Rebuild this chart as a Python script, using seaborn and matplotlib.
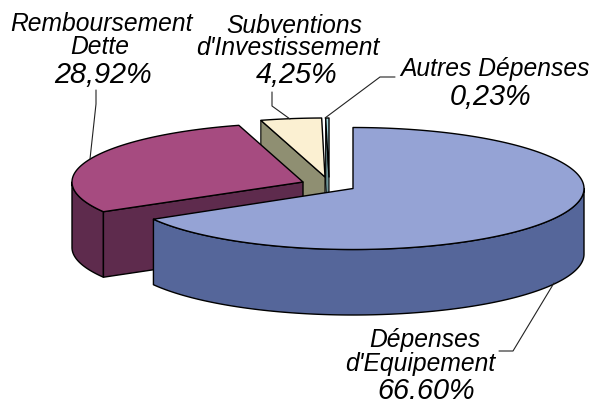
import numpy as np
import matplotlib
matplotlib.use("Agg")
import matplotlib.pyplot as plt
from matplotlib.patches import Polygon
import seaborn as sns

# ---- data ----
categories = ["Dépenses\nd'Equipement", "Remboursement\nDette",
              "Subventions\nd'Investissement", "Autres Dépenses"]
values = [66.60, 28.92, 4.25, 0.23]
value_labels = ["66.60%", "28,92%", "4,25%", "0,23%"]

# ---- styles / layout (pixel space) ----
top_colors = ["#95A3D5", "#A64B80", "#FBF0D2", "#A6D8DC"]
side_colors = ["#55669A", "#5E2B4D", "#8F8F72", "#6E9498"]
centres = [(353, 188.5), (303, 182), (325, 177), (329, 177)]
radii_y = [61, 59, 59, 59]
RX, DEPTH = 231, 65.5
# drawing order: back slices first
order = [2, 3, 1, 0]

cat_pos = [[(425, 347), (420, 371)], [(101, 31), (100, 54)],
           [(294, 33), (288, 55)], [(495, 76)]]
val_pos = [(426, 399), (103, 83), (297, 83), (491, 105)]
leaders = [[(499, 351), (513, 351), (554, 283)],
           [(96, 90), (96, 104), (90, 159)],
           [(272, 92), (272, 106), (290, 119)],
           [(395, 77), (380, 77), (325, 118)]]

sns.set_theme(style="white")
plt.rcParams["font.family"] = ["Liberation Sans", "DejaVu Sans"]

fig, ax = plt.subplots(figsize=(5.94, 4.05), dpi=100)
fig.subplots_adjust(0, 0, 1, 1)
ax.set_xlim(0, 594)
ax.set_ylim(405, 0)
ax.axis("off")
sns.despine(ax=ax, left=True, bottom=True)


def rim(c, a0, a1, ry):
    t = np.radians(np.linspace(a0, a1, max(3, int(abs(a1 - a0) * 2))))
    return np.column_stack([c[0] + RX * np.sin(t), c[1] - ry * np.cos(t)])


shares = np.array(values) / np.sum(values) * 360
starts = np.concatenate([[0], np.cumsum(shares)[:-1]])

for i in order:
    c = np.array(centres[i], float)
    ry = radii_y[i]
    a0, a1 = starts[i], starts[i] + shares[i]
    down = np.array([0, DEPTH])
    pts = rim(c, a0, a1, ry)
    # outer side wall: only the part of the rim facing the viewer (90..270 deg)
    lo, hi = max(a0, 90), min(a1, 270)
    if hi > lo:
        r = rim(c, lo, hi, ry)
        ax.add_patch(Polygon(np.vstack([r, (r + down)[::-1]]), closed=True,
                             fc=side_colors[i], ec="black", lw=1.0, joinstyle="round"))
    # cut faces that look toward the viewer
    if i in (1, 2, 3):
        p = pts[0]
        ax.add_patch(Polygon([c, p, p + down, c + down], closed=True,
                             fc=side_colors[i], ec="black", lw=1.0 if i == 1 else 0.8))
    ax.add_patch(Polygon(np.vstack([[c], pts]), closed=True,
                         fc=top_colors[i], ec="black", lw=1.0, joinstyle="round"))

for line in leaders:
    xs, ys = zip(*line)
    ax.plot(xs, ys, color="#222222", lw=0.8, solid_joinstyle="miter")

for i in range(len(values)):
    for txt, pos in zip(categories[i].split("\n"), cat_pos[i]):
        ax.text(*pos, txt, ha="center", va="baseline", style="italic",
                fontsize=17.7, color="black")
    ax.text(*val_pos[i], value_labels[i], ha="center", va="baseline", style="italic",
            fontsize=20.8, color="black")

fig.savefig("out.png", dpi=100)
